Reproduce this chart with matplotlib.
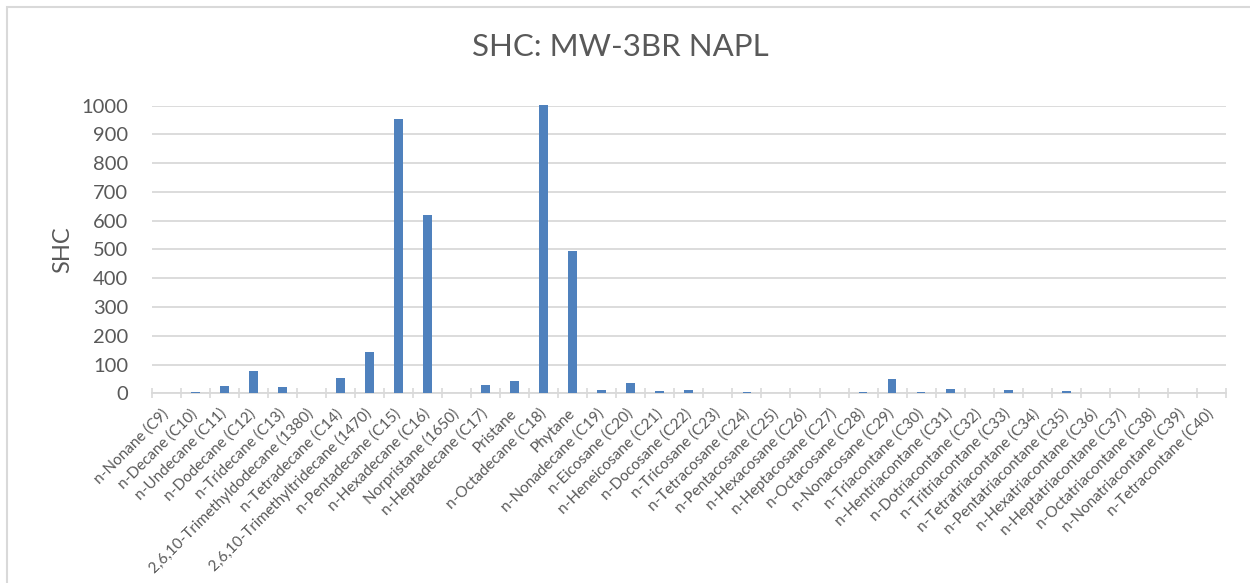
import numpy as np
import matplotlib
matplotlib.use('Agg')
import matplotlib.pyplot as plt
from matplotlib.patches import Rectangle

# DADOS
compostos = [
    'n-Nonane (C9)', 'n-Decane (C10)', 'n-Undecane (C11)', 'n-Dodecane (C12)',
    'n-Tridecane (C13)', '2,6,10-Trimethyldodecane (1380)', 'n-Tetradecane (C14)',
    '2,6,10-Trimethyltridecane (1470)', 'n-Pentadecane (C15)', 'n-Hexadecane (C16)',
    'Norpristane (1650)', 'n-Heptadecane (C17)', 'Pristane', 'n-Octadecane (C18)',
    'Phytane', 'n-Nonadecane (C19)', 'n-Eicosane (C20)', 'n-Heneicosane (C21)',
    'n-Docosane (C22)', 'n-Tricosane (C23)', 'n-Tetracosane (C24)',
    'n-Pentacosane (C25)', 'n-Hexacosane (C26)', 'n-Heptacosane (C27)',
    'n-Octacosane (C28)', 'n-Nonacosane (C29)', 'n-Triacontane (C30)',
    'n-Hentriacontane (C31)', 'n-Dotriacontane (C32)', 'n-Tritriacontane (C33)',
    'n-Tetratriacontane (C34)', 'n-Pentatriacontane (C35)', 'n-Hexatriacontane (C36)',
    'n-Heptatriacontane (C37)', 'n-Octatriacontane (C38)', 'n-Nonatriacontane (C39)',
    'n-Tetracontane (C40)',
]
shc = [
    0, 5, 25, 78, 21, 1.5, 54, 143, 954, 619,
    0, 29, 43, 1004, 496, 10, 35, 7, 12, 0,
    5, 0, 0, 0, 5, 49, 5, 14, 0, 12,
    0, 7, 0, 2, 0, 0, 0,
]
y_ticks = [0, 100, 200, 300, 400, 500, 600, 700, 800, 900, 1000]

COR_TEXTO = '#595959'
COR_GRADE = '#D9D9D9'
COR_BARRA = '#4F81BD'

plt.rcParams['font.family'] = ['Lato', 'DejaVu Sans']

fig = plt.figure(figsize=(12.5, 5.83), dpi=100)

# BORDA DO GRAFICO (estilo Excel)
fig.patches.append(Rectangle((7 / 1250, -0.1), 1.2, 1 - 7 / 583 + 0.1,
                             transform=fig.transFigure, fill=False,
                             edgecolor=COR_GRADE, linewidth=1.5))

ax = fig.add_axes([151.7 / 1250, 1 - 393.3 / 583, (1226 - 151.7) / 1250, (393.3 - 105.7) / 583])

x = np.arange(len(compostos))
ax.bar(x, shc, width=0.3, color=COR_BARRA, zorder=3, clip_on=False)

ax.set_xlim(-0.5, len(compostos) - 0.5)
ax.set_ylim(0, 1000)
ax.set_yticks(y_ticks)
ax.set_yticklabels([str(v) for v in y_ticks], fontsize=14.5, color=COR_TEXTO)
ax.tick_params(axis='y', length=0, pad=17)

ax.set_xticks(x)
ax.set_xticklabels(compostos, rotation=45, ha='right', va='center',
                   rotation_mode='anchor', fontsize=11, color=COR_TEXTO)
ax.tick_params(axis='x', which='major', length=0, pad=13)
ax.set_xticks(np.arange(len(compostos) + 1) - 0.5, minor=True)
ax.tick_params(axis='x', which='minor', direction='inout', length=7.5,
               width=1.2, color=COR_GRADE)

ax.yaxis.grid(True, color=COR_GRADE, linewidth=1.3, zorder=0)
ax.set_axisbelow(True)
for lado in ['top', 'right', 'left']:
    ax.spines[lado].set_visible(False)
ax.spines['bottom'].set_color(COR_GRADE)
ax.spines['bottom'].set_linewidth(1.3)

ax.set_ylabel('SHC', fontsize=17, color=COR_TEXTO, labelpad=6)
fig.text(0.496, 1 - 47 / 583, 'SHC: MW-3BR NAPL', ha='center', va='center',
         fontsize=22.5, color=COR_TEXTO)

plt.savefig('out.png', dpi=100)
